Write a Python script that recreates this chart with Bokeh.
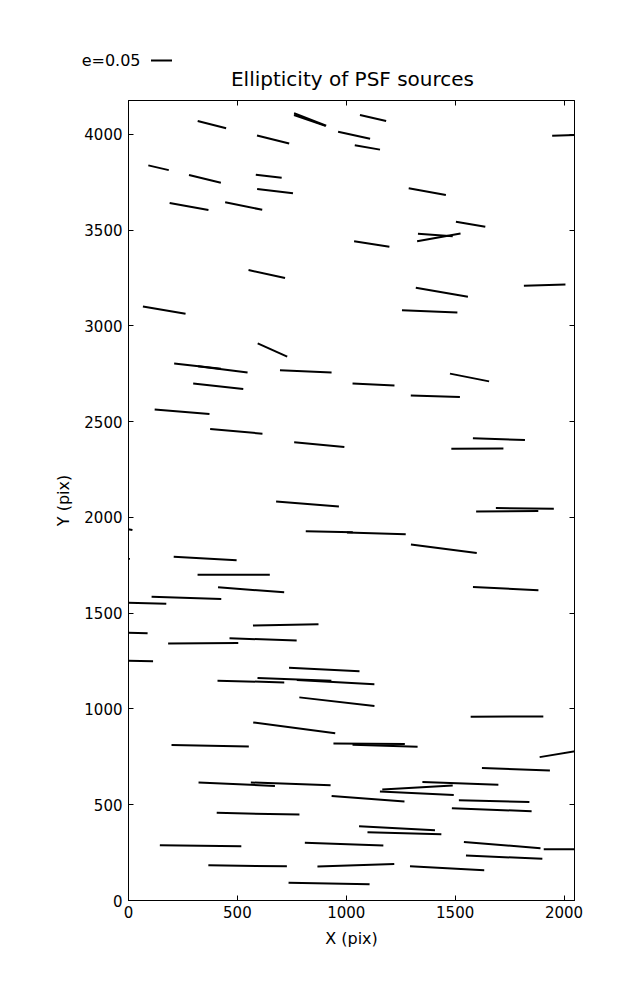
from bokeh.plotting import figure
from bokeh.models import Range1d, LinearAxis, FixedTicker, ColumnDataSource
from bokeh.layouts import column
from bokeh.core.properties import value
from bokeh.embed import file_html
from bokeh.resources import INLINE

# ---- data: source positions (pix), ellipticity, position angle (deg) ----
src_x = [383, 834, 832, 1036, 1097, 664, 138, 351, 644, 673, 278, 529, 1117, 635, 164, 661,
         317, 433, 814, 1123, 2037, 1372, 1571, 1409, 1425, 1911, 1439, 1383, 1566, 412, 1125,
         246, 495, 876, 822, 922, 1138, 0, 0, 352, 483, 563, 266, 0, 722, 0, 618, 343,
         1409, 1701, 1602, 1820, 1739, 1448, 1732, 0, 899, 562, 762, 951, 957, 761, 375,
         1105, 1178, 497, 745, 1100, 595, 1233, 1267, 331, 990, 547, 1044, 921, 1738, 2047,
         1779, 1524, 1327, 1324, 1679, 1668, 1716, 2034, 1725, 1463]
src_y = [4050, 4077, 4072, 3995, 3931, 3972, 3825, 3767, 3781, 3703, 3623, 3625, 3427, 3270, 3082, 2874,
         2789, 2772, 2762, 4085, 3995, 3700, 3530, 3474, 3462, 3212, 3175, 3075, 2730, 2684, 2693,
         2551, 2449, 2380, 2070, 1925, 1917, 1938, 1784, 1785, 1700, 1622, 1580, 1554, 1439, 1398, 1363, 1343,
         2632, 2408, 2359, 2047, 2032, 1836, 1628, 1251, 1206, 1143, 1154, 1140, 1038, 901, 808,
         818, 808, 607, 609, 531, 453, 377, 351, 286, 294, 181, 184, 89, 960, 778,
         685, 611, 590, 560, 519, 474, 289, 268, 226, 168]
src_e = [0.070, 0.082, 0.079, 0.078, 0.061, 0.079, 0.050, 0.078, 0.062, 0.086, 0.094, 0.090, 0.085, 0.089, 0.103, 0.077,
         0.112, 0.119, 0.123, 0.064, 0.095, 0.090, 0.071, 0.083, 0.105, 0.099, 0.126, 0.132, 0.095, 0.120, 0.100,
         0.131, 0.125, 0.120, 0.150, 0.112, 0.140, 0.019, 0.007, 0.150, 0.172, 0.158, 0.166, 0.180, 0.156, 0.091, 0.160, 0.167,
         0.117, 0.124, 0.124, 0.138, 0.148, 0.158, 0.156, 0.117, 0.168, 0.159, 0.176, 0.185, 0.180, 0.197, 0.184,
         0.170, 0.155, 0.182, 0.190, 0.174, 0.197, 0.181, 0.176, 0.194, 0.187, 0.187, 0.183, 0.193, 0.173, 0.167,
         0.162, 0.181, 0.168, 0.176, 0.168, 0.190, 0.183, 0.132, 0.182, 0.177]
src_theta = [-14.3, -21.2, -19.0, -12.3, -9.9, -13.9, -13.0, -13.5, -6.6, -6.8, -10.2, -11.3, -8.7, -12.3, -9.8, -24.2,
             -6.4, -7.2, -2.6, -13.0, 1.8, -10.3, -9.7, -3.8, 10.1, 1.9, -9.8, -2.4, -11.2, -6.2, -2.7,
             -4.6, -5.0, -5.3, -4.6, -1.0, -1.7, -10.0, -5.0, -3.1, 0.0, -4.3, -1.9, -1.5, 1.1, -1.8, -2.0, 0.3,
             -1.6, -1.9, 0.3, -0.6, 0.3, -7.5, -3.0, -0.7, -2.7, -1.5, -2.1, -3.2, -6.5, -7.6, -1.0,
             -0.5, -1.8, -2.5, -1.9, -4.2, -1.2, -3.0, -1.5, -0.7, -2.0, -0.7, 2.0, -1.1, 0.2, 9.3,
             -2.0, -2.0, 3.3, -2.6, -1.4, -2.2, -4.7, 0.0, -2.5, -3.1]

x_ticks = [0, 500, 1000, 1500, 2000]
y_ticks = [0, 500, 1000, 1500, 2000, 2500, 3000, 3500, 4000]

title_text = "Ellipticity of PSF sources"
key_label = "e=0.05"
key_e = 0.05
key_len_px = 21
FONT = "DejaVu Sans"

X_MAX, Y_MAX = 2048, 4176
FIG_W = 629
HEAD_H = 92
BORDER_L, BORDER_R = 128, 55
FRAME_W, FRAME_H = FIG_W - BORDER_L - BORDER_R, 800

# ---------------- header strip (page-pixel coordinates): quiver key + title ----------------
head = figure(width=FIG_W, height=HEAD_H,
              x_range=Range1d(BORDER_L, BORDER_L + FRAME_W), y_range=Range1d(HEAD_H, 0),
              min_border_left=BORDER_L, min_border_right=BORDER_R, min_border_top=0, min_border_bottom=0,
              x_axis_location=None, y_axis_location="left",
              output_backend="svg", toolbar_location=None)
head.outline_line_color = None
head.xgrid.visible = False
head.ygrid.visible = False
head.background_fill_color = "white"
head.border_fill_color = "white"

key_y = 60          # vertical centre of the key row
key_text_end = 140  # right edge of the "e=0.05" text
key_line_x0 = 150.5

hy = head.yaxis[0]
hy.ticker = FixedTicker(ticks=[key_y])
hy.major_label_overrides = {key_y: key_label}
hy.axis_line_color = None
hy.major_tick_line_color = None
hy.minor_tick_line_color = None
hy.major_tick_in = 0
hy.major_tick_out = 0
hy.major_label_standoff = BORDER_L - key_text_end
hy.major_label_text_font = FONT
hy.major_label_text_font_size = "16px"
hy.major_label_text_color = "black"

head.segment(x0=[key_line_x0], y0=[key_y], x1=[key_line_x0 + key_len_px], y1=[key_y],
             line_color="black", line_width=2)
head.text(x=[352], y=[78.5], text=[title_text], text_font=value(FONT), text_font_size="20px",
          text_color="black", text_align="center", text_baseline="middle")

# ---------------- main whisker plot ----------------
sizes = [e / key_e * key_len_px for e in src_e]
source = ColumnDataSource(dict(x=src_x, y=src_y, size=sizes, angle=src_theta))

p = figure(frame_width=FRAME_W, frame_height=FRAME_H,
           x_range=Range1d(0, X_MAX), y_range=Range1d(0, Y_MAX),
           min_border_left=BORDER_L, min_border_right=BORDER_R,
           min_border_top=100 - HEAD_H, min_border_bottom=92,
           output_backend="svg", toolbar_location=None)

p.background_fill_color = "white"
p.border_fill_color = "white"
p.outline_line_color = "black"
p.outline_line_width = 1
p.xgrid.visible = False
p.ygrid.visible = False

def style_axis(ax, ticks):
    ax.ticker = FixedTicker(ticks=ticks)
    ax.axis_line_color = "black"
    ax.major_tick_line_color = "black"
    ax.major_tick_in = 5
    ax.major_tick_out = 0
    ax.minor_tick_line_color = None
    ax.major_label_text_font = FONT
    ax.major_label_text_font_size = "15px"
    ax.major_label_text_color = "black"
    ax.axis_label_text_font = FONT
    ax.axis_label_text_font_size = "16px"
    ax.axis_label_text_font_style = "normal"
    ax.axis_label_text_color = "black"

style_axis(p.xaxis[0], x_ticks)
style_axis(p.yaxis[0], y_ticks)
p.xaxis[0].axis_label = "X (pix)"
p.yaxis[0].axis_label = "Y (pix)"
p.xaxis[0].major_label_standoff = 5
p.yaxis[0].major_label_standoff = 6
p.xaxis[0].axis_label_standoff = 8
p.yaxis[0].axis_label_standoff = 8

for loc, ticks in (("above", x_ticks), ("right", y_ticks)):
    ax = LinearAxis()
    style_axis(ax, ticks)
    ax.major_label_overrides = {t: "" for t in ticks}
    ax.major_label_text_font_size = "0px"
    ax.major_label_standoff = 0
    p.add_layout(ax, loc)

p.scatter(x="x", y="y", size="size", angle="angle", angle_units="deg", marker="dash",
          line_color="black", line_width=2, source=source)

layout = column(head, p)
open("out.html", "w").write(file_html(layout, INLINE))
